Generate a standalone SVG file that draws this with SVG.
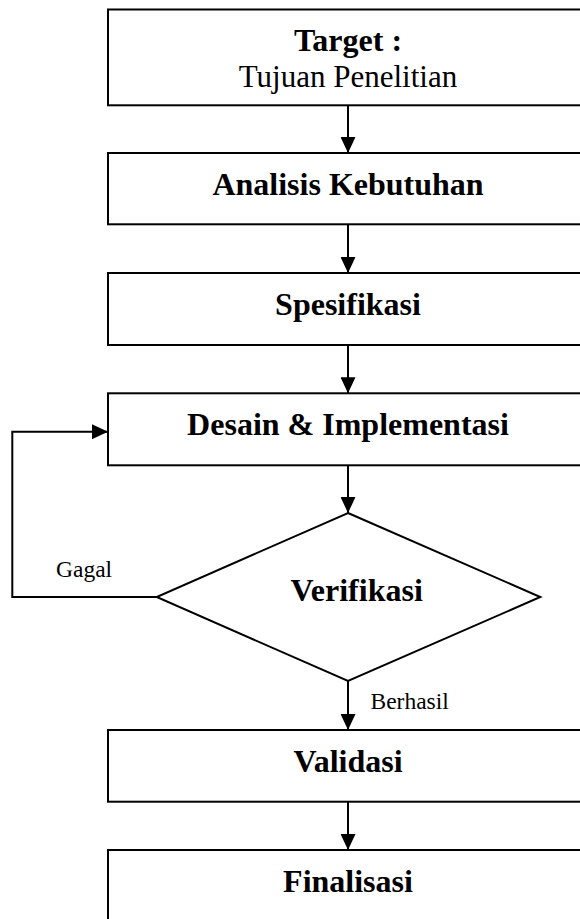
<svg xmlns="http://www.w3.org/2000/svg" width="580" height="919" viewBox="0 0 580 919">
<style>
.box{fill:#fff;stroke:#000;stroke-width:2}
.t{font-family:"Liberation Serif","Times New Roman",serif;fill:#000;text-anchor:middle}
.b{font-weight:bold;font-size:32px}
.r{font-size:31px}
.s{font-family:"Liberation Serif","Times New Roman",serif;fill:#000;font-size:23.5px}
.c{fill:none;stroke:#000;stroke-width:2}
</style>
<defs>
<marker id="ah" markerUnits="userSpaceOnUse" markerWidth="16" markerHeight="15" refX="16" refY="7.5" orient="auto">
<path d="M0,0 L16,7.5 L0,15 z" fill="#000"/>
</marker>
</defs>
<rect width="580" height="919" fill="#fff"/>
<g id="connectors">
<line class="c" x1="348" y1="105.3" x2="348" y2="153" marker-end="url(#ah)"/>
<line class="c" x1="348" y1="224.3" x2="348" y2="273" marker-end="url(#ah)"/>
<line class="c" x1="348" y1="345" x2="348" y2="393.3" marker-end="url(#ah)"/>
<line class="c" x1="348" y1="465.3" x2="348" y2="513" marker-end="url(#ah)"/>
<line class="c" x1="348" y1="681" x2="348" y2="730" marker-end="url(#ah)"/>
<line class="c" x1="348" y1="801.7" x2="348" y2="850" marker-end="url(#ah)"/>
<path class="c" d="M156.7,597 H12.3 V431.7 H108" marker-end="url(#ah)"/>
<text class="s" x="56" y="577.3">Gagal</text>
<text class="s" x="370.5" y="709.3">Berhasil</text>
</g>
<g id="target">
<rect class="box" x="108" y="9.5" width="480" height="95.8"/>
<text class="t b" x="348" y="50.7">Target :</text>
<text class="t r" x="348" y="87.3">Tujuan Penelitian</text>
</g>
<g id="analisis">
<rect class="box" x="108" y="153" width="480" height="71.3"/>
<text class="t b" x="348" y="195">Analisis Kebutuhan</text>
</g>
<g id="spesifikasi">
<rect class="box" x="108" y="273" width="480" height="72"/>
<text class="t b" x="348" y="315">Spesifikasi</text>
</g>
<g id="desain">
<rect class="box" x="108" y="393.3" width="480" height="72"/>
<text class="t b" x="348" y="435">Desain &amp; Implementasi</text>
</g>
<g id="verifikasi">
<polygon class="box" points="348,513 540.3,597 348,681 156.7,597"/>
<text class="t b" x="356.7" y="600.7">Verifikasi</text>
</g>
<g id="validasi">
<rect class="box" x="108" y="730" width="480" height="71.7"/>
<text class="t b" x="348" y="771.5">Validasi</text>
</g>
<g id="finalisasi">
<rect class="box" x="108" y="850" width="480" height="100"/>
<text class="t b" x="348" y="892">Finalisasi</text>
</g>
</svg>
